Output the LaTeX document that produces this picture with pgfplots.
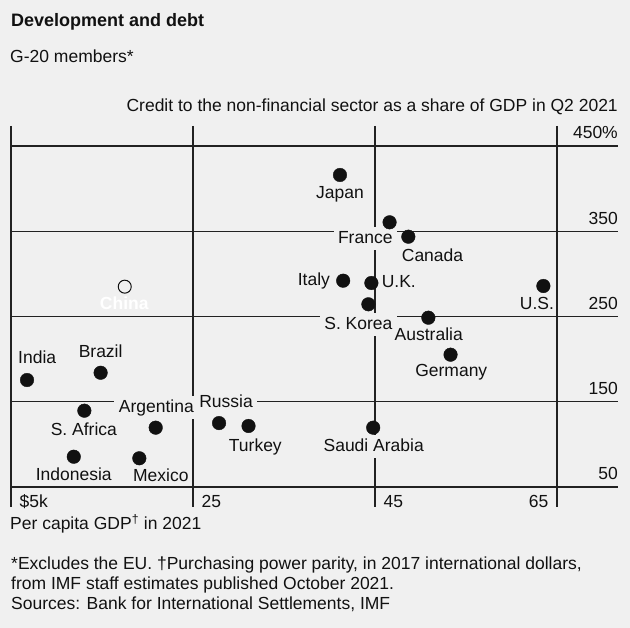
\documentclass[border=0pt]{standalone}
\usepackage{fontspec}
\setmainfont{Liberation Sans}
\usepackage{pgfplots}
\pgfplotsset{compat=1.18}
\definecolor{bg}{HTML}{F0F0F0}
\definecolor{ink}{HTML}{111111}
\definecolor{rule}{HTML}{222222}
\newcommand{\fs}{\fontsize{17.5}{21}\selectfont}

\begin{document}
\fs
\begin{tikzpicture}[x=1pt, y=1pt,
    lbl/.style={anchor=base, inner sep=0pt, text=ink, font=\fs},
    lblf/.style={lbl, fill=bg, inner xsep=4.5pt, inner ysep=4pt, text height=12.5pt, text depth=2.5pt}]
\fill[bg, use as bounding box] (0,0) rectangle (630,-628);

% titles
\node[anchor=base west, inner sep=0pt, text=ink, font=\bfseries\fontsize{18}{21}\selectfont] at (11,-26.7) {Development and debt};
\node[anchor=base west, inner sep=0pt, text=ink] at (10,-62.7) {G-20 members*};
\node[anchor=base east, inner sep=0pt, text=ink] at (618,-111.7) {Credit to the non-financial sector as a share of GDP in Q2 2021};

\begin{axis}[
    at={(11pt,-487pt)}, anchor=south west,
    scale only axis, width=607pt, height=341pt,
    xmin=5, xmax=71.7, ymin=50, ymax=450,
    clip=false,
    axis line style={draw=none},
    xmajorgrids, ymajorgrids,
    major grid style={rule, line width=1.35pt},
    xtick={5,25,45}, xticklabels={\$5k,25,45},
    extra x ticks={65}, extra x tick labels={65},
    extra x tick style={xmajorgrids=true,
        xticklabel style={anchor=base east, xshift=-17pt}},
    xtick align=outside, major tick length=20pt,
    xtick style={rule, line width=1.35pt},
    xticklabel style={anchor=base west, inner sep=0pt, xshift=8.5pt, yshift=0pt},
    ytick={50,150,250,350,450}, yticklabels={50,150,250,350,450\%},
    yticklabel pos=right,
    ytick style={draw=none},
    yticklabel style={anchor=base east, inner sep=0pt, yshift=7pt},
    tick label style={font=\fs, text=ink},
    /pgf/number format/assume math mode=true,
]

% labels (drawn before the dots)
\node[lbl, yshift=-24pt] at (axis cs:41.15,416) {Japan};
\node[lblf, xshift=-24.3pt, yshift=-21pt] at (axis cs:46.6,360.5) {France};
\node[lbl, xshift=24.2pt, yshift=-25pt] at (axis cs:48.66,343.6) {Canada};
\node[lbl, xshift=-29.3pt, yshift=-5.3pt] at (axis cs:41.5,292) {Italy};
\node[lbl, xshift=27.4pt, yshift=-4.3pt] at (axis cs:44.6,289.3) {U.K.};
\node[lblf, xshift=-10pt, yshift=-24.7pt] at (axis cs:44.27,264.3) {S. Korea};
\node[lbl, xshift=-6.4pt, yshift=-24pt] at (axis cs:63.5,285.8) {U.S.};
\node[lbl, xshift=0.4pt, yshift=-23pt] at (axis cs:50.86,248.6) {Australia};
\node[lbl, xshift=0.7pt, yshift=-22pt] at (axis cs:53.3,205.2) {Germany};
\node[lblf, xshift=0.5pt, yshift=-24pt] at (axis cs:44.8,119.6) {Saudi Arabia};
\node[lbl, text=white, font=\bfseries\fs, xshift=-0.5pt, yshift=-23.3pt] at (axis cs:17.5,285) {China};
\node[lbl, xshift=10.2pt, yshift=16.7pt] at (axis cs:6.76,175.5) {India};
\node[lbl, yshift=15.4pt] at (axis cs:14.85,184) {Brazil};
\node[lbl, xshift=-0.5pt, yshift=-24.3pt] at (axis cs:13.06,139.5) {S. Africa};
\node[lblf, xshift=0.7pt, yshift=15.4pt] at (axis cs:20.9,119.6) {Argentina};
\node[lbl, yshift=-23.3pt] at (axis cs:11.9,85.5) {Indonesia};
\node[lbl, xshift=21.5pt, yshift=-23.4pt] at (axis cs:19.1,83.7) {Mexico};
\node[lblf, xshift=7pt, yshift=15.7pt] at (axis cs:27.86,125) {Russia};
\node[lbl, xshift=6.8pt, yshift=-25.7pt] at (axis cs:31.1,121.6) {Turkey};

% G-20 members
\addplot[only marks, mark=*, mark size=6.8pt, mark options={fill=ink, draw=ink}]
    coordinates {
    (41.15,416) (46.6,360.5) (48.66,343.6) (41.5,292) (44.6,289.3)
    (44.27,264.3) (63.5,285.8) (50.86,248.6) (53.3,205.2) (44.8,119.6)
    (6.76,175.5) (14.85,184) (13.06,139.5) (20.9,119.6) (11.9,85.5)
    (19.1,83.7) (27.86,125) (31.1,121.6)};
% China
\addplot[only marks, mark=*, mark size=6.5pt, mark options={fill=bg, draw=ink, line width=1pt}]
    coordinates {(17.5,285)};
\end{axis}

\node[anchor=base west, inner sep=0pt, text=ink] at (10,-530) {Per capita GDP\textsuperscript{†} in 2021};
\node[anchor=base west, inner sep=0pt, text=ink] at (11,-569.3) {*Excludes the EU. †Purchasing power parity, in 2017 international dollars,};
\node[anchor=base west, inner sep=0pt, text=ink] at (11,-589.3) {from IMF staff estimates published October 2021.};
\node[anchor=base west, inner sep=0pt, text=ink] at (11,-609.3) {Sources: Bank for International Settlements, IMF};
\end{tikzpicture}
\end{document}
